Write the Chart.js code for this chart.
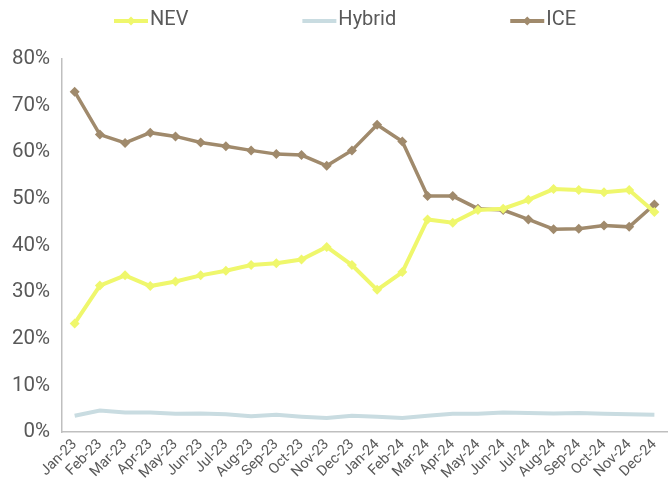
<!DOCTYPE html>
<html>
<head>
<meta charset="utf-8">
<script src="https://cdn.jsdelivr.net/npm/chart.js@4.4.0/dist/chart.umd.min.js"></script>
<style>
  html, body { margin: 0; padding: 0; background: #fff; overflow: hidden; }
  #wrap { width: 672px; height: 486px; }
</style>
</head>
<body>
<div id="wrap"><canvas id="myChart" width="672" height="486"></canvas></div>
<script>
    let months = ['Jan-23', 'Feb-23', 'Mar-23', 'Apr-23', 'May-23', 'Jun-23', 'Jul-23', 'Aug-23', 'Sep-23', 'Oct-23', 'Nov-23', 'Dec-23',
        'Jan-24', 'Feb-24', 'Mar-24', 'Apr-24', 'May-24', 'Jun-24', 'Jul-24', 'Aug-24', 'Sep-24', 'Oct-24', 'Nov-24', 'Dec-24']

    // share of sales, %
    let nev = [23.3, 31.4, 33.6, 31.3, 32.3, 33.6, 34.6, 35.8, 36.2, 37.0, 39.7, 35.8,
        30.5, 34.3, 45.6, 44.9, 47.6, 47.9, 49.8, 52.1, 51.9, 51.4, 51.9, 47.2]
    let hybrid = [3.5, 4.6, 4.2, 4.2, 3.9, 4.0, 3.8, 3.4, 3.7, 3.3, 3.0, 3.5,
        3.3, 3.0, 3.5, 3.9, 3.9, 4.2, 4.1, 4.0, 4.1, 3.9, 3.8, 3.7]
    let ice = [73.0, 63.8, 62.0, 64.2, 63.4, 62.1, 61.3, 60.4, 59.6, 59.4, 57.1, 60.4,
        65.9, 62.3, 50.6, 50.6, 47.9, 47.6, 45.6, 43.5, 43.6, 44.3, 44.0, 48.8]

    let yTicks = [0, 10, 20, 30, 40, 50, 60, 70, 80]

    const textColor = '#595959'
    const fontFamily = 'Roboto'

    let series = [
        { label: 'NEV', data: nev, color: '#eff76c', width: 4, marker: true },
        { label: 'Hybrid', data: hybrid, color: '#c9dce1', width: 4, marker: false },
        { label: 'ICE', data: ice, color: '#a08a6c', width: 3.5, marker: true }
    ]

    // legend drawn by hand: wide gaps between the entries
    const wideLegend = {
        id: 'wideLegend',
        afterDraw(chart) {
            const ctx = chart.ctx
            let x = 114
            const y = 21
            ctx.save()
            ctx.font = '20px ' + fontFamily
            ctx.textBaseline = 'middle'
            chart.data.datasets.forEach((ds) => {
                ctx.strokeStyle = ds.borderColor
                ctx.lineWidth = 4
                ctx.beginPath()
                ctx.moveTo(x, y)
                ctx.lineTo(x + 34, y)
                ctx.stroke()
                if (ds.pointRadius > 0) {
                    ctx.fillStyle = ds.borderColor
                    ctx.beginPath()
                    ctx.moveTo(x + 17, y - 4.5)
                    ctx.lineTo(x + 21.5, y)
                    ctx.lineTo(x + 17, y + 4.5)
                    ctx.lineTo(x + 12.5, y)
                    ctx.closePath()
                    ctx.fill()
                }
                ctx.fillStyle = textColor
                ctx.fillText(ds.label, x + 36, y - 1)
                x += 36 + ctx.measureText(ds.label).width + 114
            })
            ctx.restore()
        }
    }

    const chart = new Chart(document.getElementById('myChart'), {
        type: 'line',
        data: {
            labels: months,
            datasets: series.map(s => ({
                label: s.label,
                data: s.data,
                borderColor: s.color,
                backgroundColor: s.color,
                borderWidth: s.width,
                pointStyle: 'rectRot',
                pointRadius: s.marker ? 5 : 0,
                pointHoverRadius: s.marker ? 5 : 0,
                pointBorderWidth: 0,
                tension: 0
            }))
        },
        options: {
            responsive: false,
            animation: false,
            layout: {
                padding: { left: 0, right: 0, top: 59, bottom: 0 }
            },
            plugins: {
                legend: { display: false },
                tooltip: { enabled: false }
            },
            scales: {
                x: {
                    offset: true,
                    grid: { display: false, drawTicks: false },
                    border: { display: true, color: '#bfbfbf', width: 1.5 },
                    ticks: {
                        color: textColor,
                        font: { family: fontFamily, size: 14.5 },
                        autoSkip: false,
                        maxRotation: 45,
                        minRotation: 45,
                        padding: 4
                    }
                },
                y: {
                    min: 0,
                    max: 80,
                    afterBuildTicks: (axis) => { axis.ticks = yTicks.map(v => ({ value: v })) },
                    grid: { display: false, drawTicks: false },
                    border: { display: true, color: '#bfbfbf', width: 1.5 },
                    ticks: {
                        color: textColor,
                        font: { family: fontFamily, size: 20.5 },
                        padding: 12,
                        callback: (v) => v + '%'
                    }
                }
            }
        },
        plugins: [wideLegend]
    })
</script>
</body>
</html>
